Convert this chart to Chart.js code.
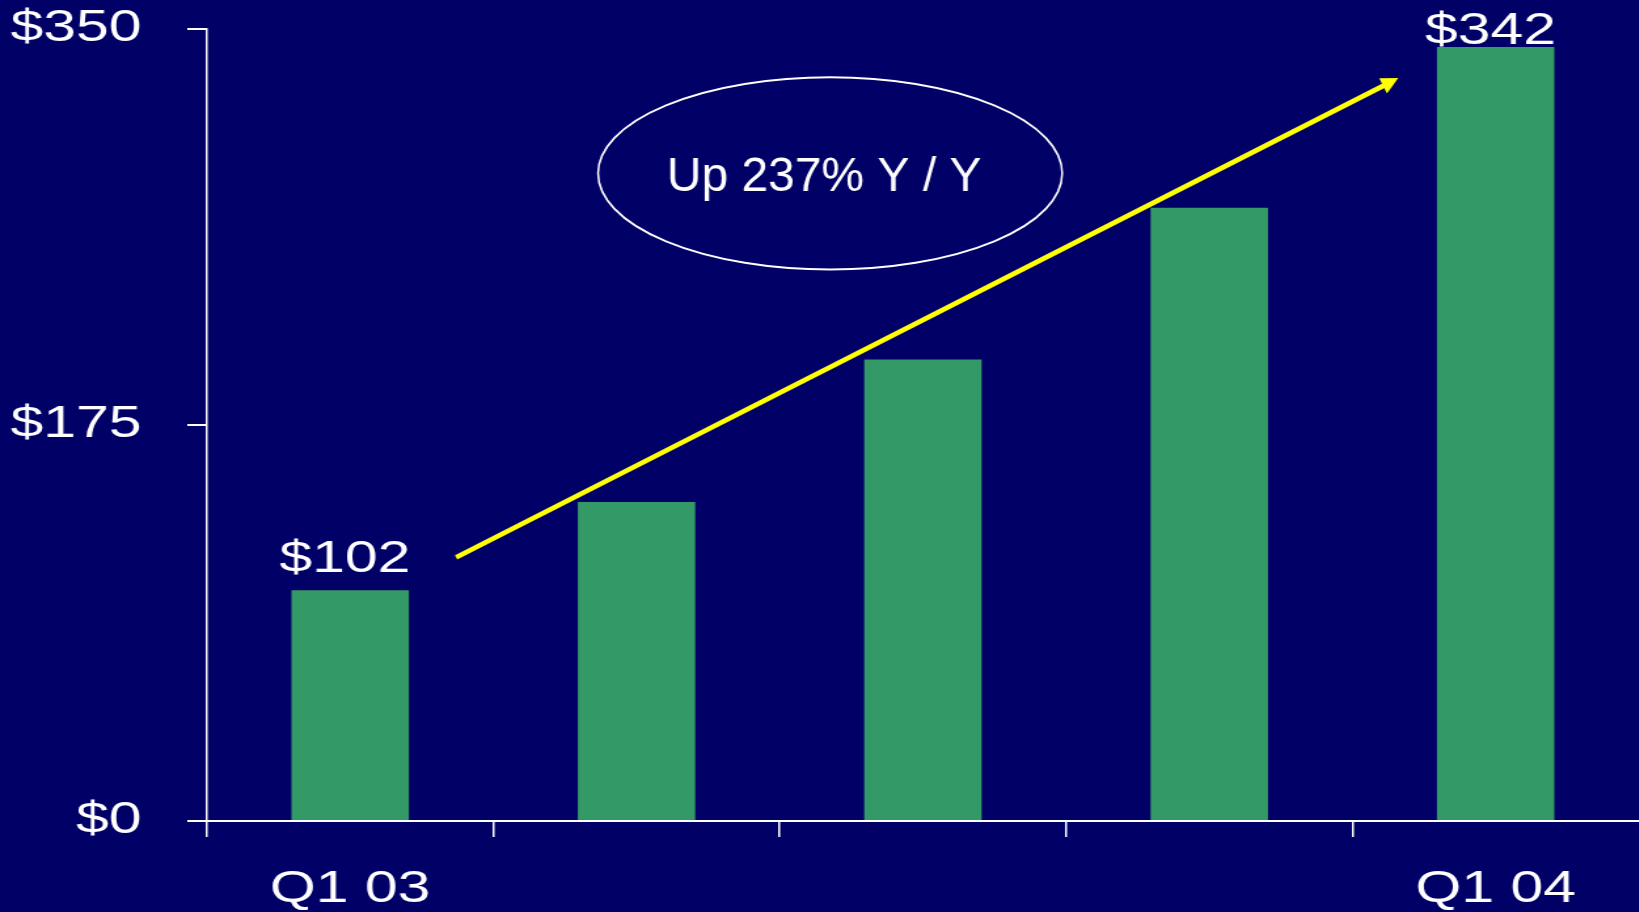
<!DOCTYPE html>
<html><head><meta charset="utf-8">
<script src="https://cdn.jsdelivr.net/npm/chart.js@4.4.0/dist/chart.umd.min.js"></script>
<style>
html,body{margin:0;padding:0;background:#000066;overflow:hidden;width:1639px;height:912px;}
#wrap{position:absolute;left:0;top:0;width:1251px;height:912px;transform:scaleX(1.31);transform-origin:0 0;}
canvas{display:block;}
</style></head><body>
<div id="wrap"><canvas id="c" width="1251" height="912"></canvas></div>
<script>
// ---- data ----
const quarters = ["Q1 03", "Q2 03", "Q3 03", "Q4 03", "Q1 04"];
const revenue = [102, 141, 204, 271, 342];
const yTicks = [0, 175, 350];
const labeledBars = [0, 4];
const calloutText = "Up 237% Y / Y";
// annotation anchors (category index, value)
const arrowFrom = [0.37, 116.5];
const arrowTo = [3.66, 328.3];
const ellipseAt = [1.676, 286.2];

const S = 1.31; // horizontal stretch of the original slide
const FONT = "'Liberation Sans', Arial, sans-serif";

const overlay = {
  id: 'overlay',
  afterDraw(chart) {
    const ctx = chart.ctx;
    const xs = chart.scales.x, ys = chart.scales.y;
    // value labels (stretched like the chart)
    const meta = chart.getDatasetMeta(0);
    ctx.save();
    ctx.fillStyle = '#ffffff';
    ctx.font = '45px ' + FONT;
    ctx.textAlign = 'center';
    ctx.textBaseline = 'alphabetic';
    labeledBars.forEach(i => {
      const bar = meta.data[i];
      const y = Math.max(bar.y - 18, 44);
      ctx.fillText('$' + revenue[i], bar.x - 4, y);
    });
    ctx.restore();

    // arrow + ellipse in real (unstretched) coordinates
    ctx.save();
    ctx.scale(1 / S, 1);
    const x1 = xs.getPixelForValue(arrowFrom[0]) * S, y1 = ys.getPixelForValue(arrowFrom[1]);
    const x2 = xs.getPixelForValue(arrowTo[0]) * S, y2 = ys.getPixelForValue(arrowTo[1]);
    const ang = Math.atan2(y2 - y1, x2 - x1);
    const headLen = 17, headHalf = 8.5;
    const bx = x2 - headLen * Math.cos(ang), by = y2 - headLen * Math.sin(ang);
    ctx.strokeStyle = '#ffff00';
    ctx.fillStyle = '#ffff00';
    ctx.lineWidth = 5;
    ctx.lineCap = 'butt';
    ctx.beginPath();
    ctx.moveTo(x1, y1);
    ctx.lineTo(bx + 2 * Math.cos(ang), by + 2 * Math.sin(ang));
    ctx.stroke();
    ctx.beginPath();
    ctx.moveTo(x2, y2);
    ctx.lineTo(bx - headHalf * Math.sin(ang), by + headHalf * Math.cos(ang));
    ctx.lineTo(bx + headHalf * Math.sin(ang), by - headHalf * Math.cos(ang));
    ctx.closePath();
    ctx.fill();

    const cx = xs.getPixelForValue(ellipseAt[0]) * S, cy = ys.getPixelForValue(ellipseAt[1]);
    ctx.strokeStyle = '#ffffff';
    ctx.lineWidth = 2;
    ctx.beginPath();
    ctx.ellipse(cx, cy, 222 * 1.0453, 92 * 1.0453, 0, 0, Math.PI * 2);
    ctx.stroke();
    ctx.fillStyle = '#ffffff';
    ctx.font = '48px ' + FONT;
    ctx.textAlign = 'center';
    ctx.textBaseline = 'alphabetic';
    ctx.fillText(calloutText, cx - 6, cy + 17.5);
    ctx.restore();
  }
};

new Chart(document.getElementById('c'), {
  type: 'bar',
  data: {
    labels: quarters,
    datasets: [{
      data: revenue,
      backgroundColor: '#339966',
      borderWidth: 0,
      barPercentage: 0.41,
      categoryPercentage: 1.0
    }]
  },
  options: {
    responsive: false,
    devicePixelRatio: 1,
    animation: false,
    layout: { padding: { top: 29, right: 0, bottom: 0, left: 0 } },
    plugins: { legend: { display: false }, tooltip: { enabled: false } },
    scales: {
      x: {
        grid: {
          display: true, offset: true, drawOnChartArea: false, drawTicks: true, tickLength: 16, lineWidth: 1.5,
          color: c => c.type === 'tick' ? '#ffffff' : 'rgba(0,0,0,0)'
        },
        border: { display: true, color: '#ffffff', width: 2 },
        ticks: {
          color: '#ffffff', font: { size: 45, family: FONT }, padding: 26, maxRotation: 0, autoSkip: false,
          callback: (v, i) => (i === 0 || i === quarters.length - 1) ? quarters[i] : ''
        },
        afterFit: s => { s.height = 91; s.paddingLeft = 0; s.paddingRight = 0; }
      },
      y: {
        min: 0, max: 350,
        grid: { display: true, drawOnChartArea: false, drawTicks: true, tickLength: 15, color: '#ffffff', lineWidth: 2 },
        border: { display: true, color: '#ffffff', width: 1.5 },
        ticks: { color: '#ffffff', font: { size: 45, family: FONT }, padding: 35, callback: v => '$' + v },
        afterBuildTicks: s => { s.ticks = yTicks.map(v => ({ value: v })); },
        afterFit: s => { s.width = 158; s.paddingTop = 0; s.paddingBottom = 0; }
      }
    }
  },
  plugins: [overlay]
});
</script>
</body></html>
